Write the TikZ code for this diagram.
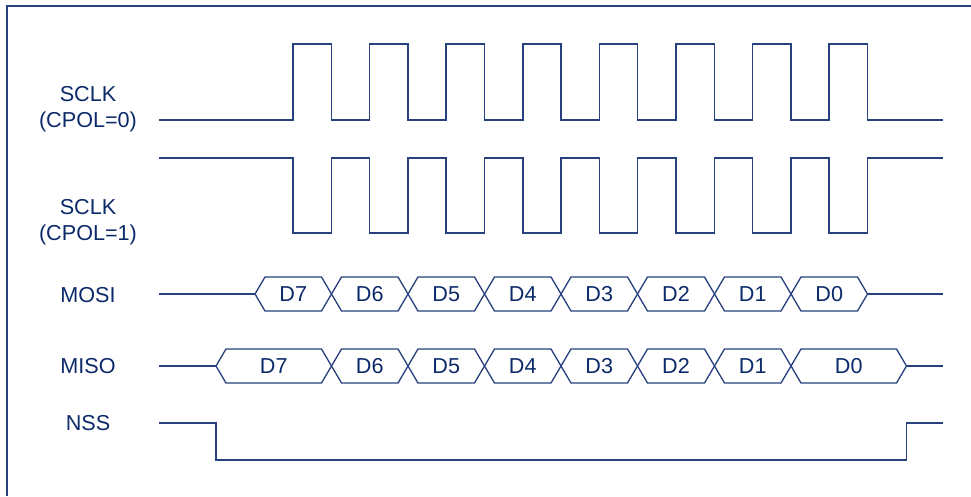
\documentclass[tikz,border=0pt]{standalone}
\usepackage{fontspec}
\setmainfont{Liberation Sans}
\usepackage{xcolor}
\usepackage{tikz}
\definecolor{SPILine}{HTML}{27407E}
\definecolor{SPIText}{HTML}{0C2A69}

\begin{document}
\begin{tikzpicture}[x=1cm,y=1cm,
  sig/.style={draw=SPILine,line width=0.75pt,line join=miter},
  lbl/.style={text=SPIText,align=center,inner sep=0pt,font=\fontsize{12.3}{14.8}\selectfont}]
\path[use as bounding box] (0,0) rectangle (19.42,9.92);
\draw[sig] (0.14,0) -- (0.14,9.80) -- (19.42,9.80);
% signal names
\node[lbl] (sclk0) at (1.76,7.74) {SCLK\\(CPOL=0)};
\node[lbl] (sclk1) at (1.76,5.48) {SCLK\\(CPOL=1)};
\node[lbl] (mosi) at (1.76,4.01) {MOSI};
\node[lbl] (miso) at (1.76,2.59) {MISO};
\node[lbl] (nss) at (1.76,1.45) {NSS};
% clocks
\draw[sig] (3.18,7.52) -| (5.86,9.04) -| (6.63,7.52) -| (7.39,9.04) -| (8.16,7.52) -| (8.92,9.04) -| (9.69,7.52) -| (10.46,9.04) -| (11.22,7.52) -| (11.99,9.04) -| (12.75,7.52) -| (13.52,9.04) -| (14.29,7.52) -| (15.05,9.04) -| (15.82,7.52) -| (16.58,9.04) -| (17.35,7.52) -- (18.86,7.52);
\draw[sig] (3.18,6.76) -| (5.86,5.26) -| (6.63,6.76) -| (7.39,5.26) -| (8.16,6.76) -| (8.92,5.26) -| (9.69,6.76) -| (10.46,5.26) -| (11.22,6.76) -| (11.99,5.26) -| (12.75,6.76) -| (13.52,5.26) -| (14.29,6.76) -| (15.05,5.26) -| (15.82,6.76) -| (16.58,5.26) -| (17.35,6.76) -- (18.86,6.76);
% MOSI
\draw[sig] (3.18,4.04) -- (5.10,4.04);
\draw[sig] (5.10,4.04) -- (5.30,4.38) -- (6.43,4.38) -- (6.63,4.04) -- (6.43,3.70) -- (5.30,3.70) -- cycle;
\node[lbl] (mosi7) at (5.865,4.04) {D7};
\draw[sig] (6.63,4.04) -- (6.83,4.38) -- (7.96,4.38) -- (8.16,4.04) -- (7.96,3.70) -- (6.83,3.70) -- cycle;
\node[lbl] (mosi6) at (7.395,4.04) {D6};
\draw[sig] (8.16,4.04) -- (8.36,4.38) -- (9.49,4.38) -- (9.69,4.04) -- (9.49,3.70) -- (8.36,3.70) -- cycle;
\node[lbl] (mosi5) at (8.925,4.04) {D5};
\draw[sig] (9.69,4.04) -- (9.89,4.38) -- (11.02,4.38) -- (11.22,4.04) -- (11.02,3.70) -- (9.89,3.70) -- cycle;
\node[lbl] (mosi4) at (10.455,4.04) {D4};
\draw[sig] (11.22,4.04) -- (11.42,4.38) -- (12.55,4.38) -- (12.75,4.04) -- (12.55,3.70) -- (11.42,3.70) -- cycle;
\node[lbl] (mosi3) at (11.985,4.04) {D3};
\draw[sig] (12.75,4.04) -- (12.95,4.38) -- (14.09,4.38) -- (14.29,4.04) -- (14.09,3.70) -- (12.95,3.70) -- cycle;
\node[lbl] (mosi2) at (13.52,4.04) {D2};
\draw[sig] (14.29,4.04) -- (14.49,4.38) -- (15.62,4.38) -- (15.82,4.04) -- (15.62,3.70) -- (14.49,3.70) -- cycle;
\node[lbl] (mosi1) at (15.055,4.04) {D1};
\draw[sig] (15.82,4.04) -- (16.02,4.38) -- (17.15,4.38) -- (17.35,4.04) -- (17.15,3.70) -- (16.02,3.70) -- cycle;
\node[lbl] (mosi0) at (16.585,4.04) {D0};
\draw[sig] (17.35,4.04) -- (18.86,4.04);
% MISO
\draw[sig] (3.18,2.60) -- (4.32,2.60);
\draw[sig] (4.32,2.60) -- (4.52,2.94) -- (6.43,2.94) -- (6.63,2.60) -- (6.43,2.26) -- (4.52,2.26) -- cycle;
\node[lbl] (miso7) at (5.475,2.60) {D7};
\draw[sig] (6.63,2.60) -- (6.83,2.94) -- (7.96,2.94) -- (8.16,2.60) -- (7.96,2.26) -- (6.83,2.26) -- cycle;
\node[lbl] (miso6) at (7.395,2.60) {D6};
\draw[sig] (8.16,2.60) -- (8.36,2.94) -- (9.49,2.94) -- (9.69,2.60) -- (9.49,2.26) -- (8.36,2.26) -- cycle;
\node[lbl] (miso5) at (8.925,2.60) {D5};
\draw[sig] (9.69,2.60) -- (9.89,2.94) -- (11.02,2.94) -- (11.22,2.60) -- (11.02,2.26) -- (9.89,2.26) -- cycle;
\node[lbl] (miso4) at (10.455,2.60) {D4};
\draw[sig] (11.22,2.60) -- (11.42,2.94) -- (12.55,2.94) -- (12.75,2.60) -- (12.55,2.26) -- (11.42,2.26) -- cycle;
\node[lbl] (miso3) at (11.985,2.60) {D3};
\draw[sig] (12.75,2.60) -- (12.95,2.94) -- (14.09,2.94) -- (14.29,2.60) -- (14.09,2.26) -- (12.95,2.26) -- cycle;
\node[lbl] (miso2) at (13.52,2.60) {D2};
\draw[sig] (14.29,2.60) -- (14.49,2.94) -- (15.62,2.94) -- (15.82,2.60) -- (15.62,2.26) -- (14.49,2.26) -- cycle;
\node[lbl] (miso1) at (15.055,2.60) {D1};
\draw[sig] (15.82,2.60) -- (16.02,2.94) -- (17.93,2.94) -- (18.13,2.60) -- (17.93,2.26) -- (16.02,2.26) -- cycle;
\node[lbl] (miso0) at (16.975,2.60) {D0};
\draw[sig] (18.13,2.60) -- (18.86,2.60);
% NSS
\draw[sig] (3.18,1.46) -| (4.32,0.72) -| (18.13,1.46) -- (18.86,1.46);
\end{tikzpicture}
\end{document}
